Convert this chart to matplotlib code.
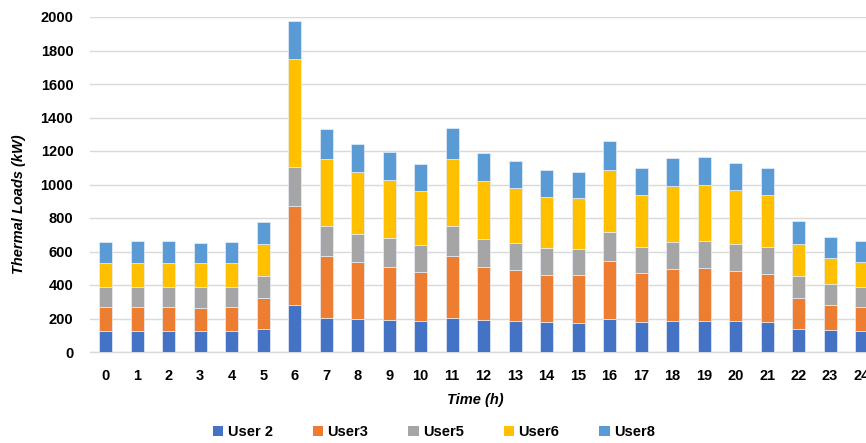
import matplotlib
matplotlib.use("Agg")
import matplotlib.pyplot as plt
import numpy as np

hours = list(range(25))
user2 = [125, 125, 125, 123, 125, 137, 283, 205, 195, 189, 183, 205, 189, 183, 177, 175, 197, 179, 185, 187, 183, 179, 139, 129, 127]
user3 = [142, 142, 142, 142, 142, 183, 591, 370, 340, 320, 297, 370, 320, 305, 285, 283, 344, 291, 311, 312, 299, 289, 185, 150, 140]
user5 = [123, 123, 123, 125, 123, 136, 230, 179, 171, 170, 161, 179, 168, 163, 161, 159, 173, 159, 163, 166, 163, 161, 132, 125, 123]
user6 = [139, 141, 141, 139, 139, 187, 645, 398, 367, 346, 320, 400, 344, 326, 304, 302, 373, 310, 334, 334, 322, 308, 191, 155, 145]
user8 = [126, 130, 130, 124, 126, 133, 229, 179, 171, 167, 163, 181, 167, 163, 160, 158, 173, 159, 163, 165, 163, 159, 135, 126, 126]

series = [("User 2", user2, "#4472C4"),
          ("User3", user3, "#ED7D31"),
          ("User5", user5, "#A5A5A5"),
          ("User6", user6, "#FFC000"),
          ("User8", user8, "#5B9BD5")]

plt.rcParams['font.family'] = ['Liberation Sans', 'DejaVu Sans']
plt.rcParams['font.weight'] = 'bold'

fig = plt.figure(figsize=(8.66, 4.43), dpi=100)
ax = fig.add_axes([90/866, 1-352/443, 1-90/866, 335/443])

bottom = np.zeros(len(hours))
for name, vals, col in series:
    ax.bar(hours, vals, width=0.41, bottom=bottom, color=col, label=name,
           edgecolor='#E8EEF8', linewidth=0.5, zorder=3)
    bottom += np.array(vals)

ax.set_xlim(-0.5, 24.14)
ax.set_ylim(0, 2000)
ax.set_yticks(range(0, 2001, 200))
ax.set_xticks(hours)
ax.set_xticklabels([str(h) for h in hours])
ax.grid(axis='y', color='#D9D9D9', linewidth=1.0, zorder=0)
ax.set_axisbelow(True)
for s in ['top', 'right', 'left']:
    ax.spines[s].set_visible(False)
ax.spines['bottom'].set_color('#D9D9D9')
ax.spines['bottom'].set_linewidth(1.0)
ax.tick_params(axis='both', length=0, labelsize=10.5, pad=12)
for lbl in ax.get_xticklabels() + ax.get_yticklabels():
    lbl.set_fontweight('bold')

fig.text(19/866, 1-204/443, "Thermal Loads (kW)", rotation=90, ha='center', va='center',
         fontsize=10.5, fontweight='bold', fontstyle='italic')
fig.text(475/866, 1-400/443, "Time (h)", ha='center', va='center',
         fontsize=10.5, fontweight='bold', fontstyle='italic')

leg = fig.legend(loc='center', bbox_to_anchor=(434/866, 1-432/443), ncol=5, frameon=False,
                 handlelength=0.7, handleheight=0.7, handletextpad=0.3, columnspacing=2.75,
                 borderpad=0, prop={'size': 10.5, 'weight': 'bold'})
for h in leg.legend_handles:
    h.set_edgecolor('none')

fig.savefig("out.png", dpi=100)
